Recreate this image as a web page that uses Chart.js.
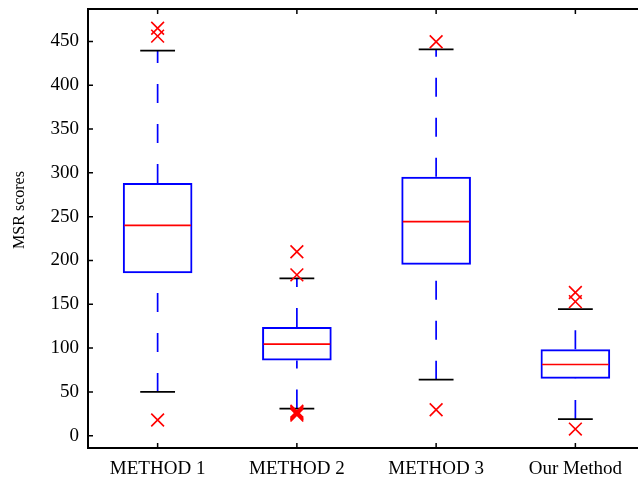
<!DOCTYPE html>
<html>
<head>
<meta charset="utf-8">
<script src="https://cdn.jsdelivr.net/npm/chart.js@4.4.0/dist/chart.umd.min.js"></script>
<style>
  html, body { margin: 0; padding: 0; background: #fff; overflow: hidden; }
  #wrap { width: 650px; height: 481px; }
</style>
</head>
<body>
<div id="wrap"><canvas id="c" width="650" height="481"></canvas></div>
<script>
// Box-plot summary of MSR scores per method
const methods = ['METHOD 1', 'METHOD 2', 'METHOD 3', 'Our Method'];
const lowerWhisker = [50, 31, 64, 19];
const q1 = [185.5, 86, 195, 65];
const median = [240, 104.6, 244.4, 81.3];
const q3 = [288.5, 124, 295.7, 98.8];
const upperWhisker = [439.5, 179.5, 441, 144.5];
const outliers = [
  [465, 456, 18],
  [210, 183.6, 23.5, 25, 26.5, 28],
  [449.6, 29.6],
  [163.4, 153, 7.6]
];
const yTicks = [0, 50, 100, 150, 200, 250, 300, 350, 400, 450];
const yLabel = 'MSR scores';

const BLUE = '#0000ff';
const RED = '#ff0000';
const BLACK = '#000000';
const SERIF = '"Liberation Serif", "Times New Roman", serif';

const outlierPoints = [];
outliers.forEach((list, i) => list.forEach(v => outlierPoints.push({ x: methods[i], y: v })));

// Whiskers, caps, medians, frame and inward tick marks, all placed through the chart scales
const boxParts = {
  id: 'boxParts',
  beforeDatasetsDraw(chart) {
    const { ctx, scales: { x, y } } = chart;
    const step = x.getPixelForValue(1) - x.getPixelForValue(0);
    const capHalf = step * 0.125;
    ctx.save();
    ctx.lineWidth = 1.7;
    methods.forEach((m, i) => {
      const px = x.getPixelForValue(i);
      // dashed whiskers, drawn from the lower value upwards
      ctx.strokeStyle = BLUE;
      ctx.setLineDash([19, 21]);
      ctx.beginPath();
      ctx.moveTo(px, y.getPixelForValue(q3[i]));
      ctx.lineTo(px, y.getPixelForValue(upperWhisker[i]));
      ctx.stroke();
      ctx.beginPath();
      ctx.moveTo(px, y.getPixelForValue(lowerWhisker[i]));
      ctx.lineTo(px, y.getPixelForValue(q1[i]));
      ctx.stroke();
      // whisker caps
      ctx.setLineDash([]);
      ctx.strokeStyle = BLACK;
      [upperWhisker[i], lowerWhisker[i]].forEach(v => {
        const py = y.getPixelForValue(v);
        ctx.beginPath();
        ctx.moveTo(px - capHalf, py);
        ctx.lineTo(px + capHalf, py);
        ctx.stroke();
      });
    });
    ctx.restore();
  },
  afterDatasetsDraw(chart) {
    const { ctx, chartArea: a, scales: { x, y } } = chart;
    const step = x.getPixelForValue(1) - x.getPixelForValue(0);
    const boxHalf = step * 0.25;
    ctx.save();
    // medians
    ctx.strokeStyle = RED;
    ctx.lineWidth = 1.7;
    methods.forEach((m, i) => {
      const px = x.getPixelForValue(i);
      const py = y.getPixelForValue(median[i]);
      ctx.beginPath();
      ctx.moveTo(px - boxHalf + 1.5, py);
      ctx.lineTo(px + boxHalf - 1.5, py);
      ctx.stroke();
    });
    // inward tick marks
    ctx.strokeStyle = BLACK;
    ctx.lineWidth = 1.5;
    const tl = 5;
    yTicks.forEach(v => {
      const py = y.getPixelForValue(v);
      ctx.beginPath();
      ctx.moveTo(a.left, py); ctx.lineTo(a.left + tl, py);
      ctx.moveTo(a.right, py); ctx.lineTo(a.right - tl, py);
      ctx.stroke();
    });
    methods.forEach((m, i) => {
      const px = x.getPixelForValue(i);
      ctx.beginPath();
      ctx.moveTo(px, a.bottom); ctx.lineTo(px, a.bottom - tl);
      ctx.moveTo(px, a.top); ctx.lineTo(px, a.top + tl);
      ctx.stroke();
    });
    // axes frame
    ctx.lineWidth = 2;
    ctx.strokeRect(a.left, a.top, a.right - a.left, a.bottom - a.top);
    // y-axis title
    ctx.fillStyle = BLACK;
    ctx.font = '16px ' + SERIF;
    ctx.textAlign = 'center';
    ctx.textBaseline = 'middle';
    ctx.translate(20, 210);
    ctx.rotate(-Math.PI / 2);
    ctx.fillText(yLabel, 0, 0);
    ctx.restore();
  }
};

new Chart(document.getElementById('c'), {
  type: 'bar',
  data: {
    labels: methods,
    datasets: [
      {
        type: 'scatter',
        data: outlierPoints,
        pointStyle: 'crossRot',
        pointRadius: 9,
        borderColor: RED,
        backgroundColor: RED,
        borderWidth: 1.6,
        showLine: false,
        order: 0
      },
      {
        type: 'bar',
        data: q1.map((v, i) => [v, q3[i]]),
        borderColor: BLUE,
        backgroundColor: 'rgba(0,0,0,0)',
        borderWidth: 2,
        borderSkipped: false,
        categoryPercentage: 1,
        barPercentage: 0.5,
        order: 1
      }
    ]
  },
  options: {
    responsive: false,
    animation: false,
    devicePixelRatio: 1,
    layout: { autoPadding: false, padding: { top: 9, right: 5, left: 0, bottom: 0 } },
    plugins: { legend: { display: false }, tooltip: { enabled: false } },
    scales: {
      x: {
        type: 'category',
        offset: true,
        grid: { display: false, drawTicks: false },
        border: { display: false },
        ticks: { font: { family: SERIF, size: 19 }, color: BLACK, padding: 10, maxRotation: 0, autoSkip: false },
        afterFit(s) { s.height = 33; s.paddingLeft = 0; s.paddingRight = 0; }
      },
      y: {
        min: -14,
        max: 487,
        grid: { display: false, drawTicks: false },
        border: { display: false },
        ticks: { font: { family: SERIF, size: 19 }, color: BLACK, padding: 9 },
        afterBuildTicks(s) { s.ticks = yTicks.map(v => ({ value: v })); },
        afterFit(s) { s.width = 88; s.paddingTop = 0; s.paddingBottom = 0; }
      }
    }
  },
  plugins: [boxParts]
});
</script>
</body>
</html>
